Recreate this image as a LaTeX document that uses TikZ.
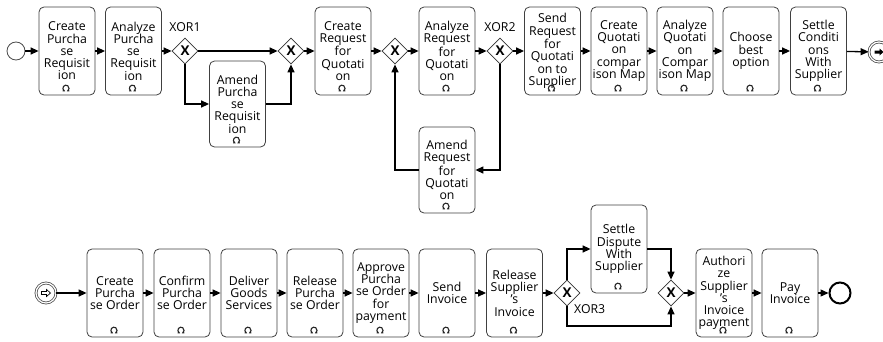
\documentclass[tikz,border=0pt]{standalone}
\usepackage{fontspec}
\setmainfont{Open Sans}
\usetikzlibrary{shapes.geometric,arrows.meta,calc}
\tikzset{
  task/.style={draw=black!75, line width=0.8pt, rounded corners=5pt, minimum width=56pt,
    minimum height=88pt, inner sep=0.5pt, align=center, fill=white,
    font=\fontsize{12.3}{12.3}\selectfont},
  gw/.style={diamond, draw=black!80, line width=0.8pt, minimum width=26pt, minimum height=26pt,
    inner sep=0pt, fill=white, font=\bfseries\fontsize{13.5}{13.5}\selectfont},
  gwlabel/.style={font=\fontsize{12.3}{12.3}\selectfont, inner sep=0pt},
  flow/.style={line width=1.3pt, -{Triangle[length=8pt,width=7pt]}},
  evstart/.style={circle, draw=black!70, line width=0.8pt, minimum size=18pt, inner sep=0pt, fill=white},
  evend/.style={circle, draw=black, line width=2pt, minimum size=21pt, inner sep=0pt, fill=white},
  evlink/.style={circle, draw=black!70, line width=0.8pt, minimum size=20pt, inner sep=0pt, fill=white,
    double=white, double distance=1.2pt},
  loopmk/.style={line width=1.1pt, black!85}
}
\newcommand\loopmark[1]{\draw[loopmk] ($(#1.south)+(-4.4,4.6)$) -- ++(1.6,0) arc[start angle=235,end angle=-55,radius=3.1] -- ++(1.6,0);}
\begin{document}
\begin{tikzpicture}[x=1pt,y=1pt]
\useasboundingbox (0,0) rectangle (883,341);
\clip (0,0) rectangle (883,341);
% ---------- top row ----------
\node[evstart] (start) at (16,290) {};
\node[task] (t1) at (67,290) {Create\\Purcha\\se\\Requisit\\ion};
\node[task] (t2) at (133.5,290) {Analyze\\Purcha\\se\\Requisit\\ion};
\node[gw] (x1) at (185,290) {X};
\node[gwlabel] (lx1) at (185,314) {XOR1};
\node[task, minimum height=86pt] (apr) at (237.5,237) {Amend\\Purcha\\se\\Requisit\\ion};
\node[gw] (m1) at (291,290) {X};
\node[task] (t3) at (343,290) {Create\\Request\\for\\Quotati\\on};
\node[gw] (m2) at (395,290) {X};
\node[task] (t4) at (447,290) {Analyze\\Request\\for\\Quotati\\on};
\node[gw] (x2) at (500,290) {X};
\node[gwlabel] (lx2) at (500,314) {XOR2};
\node[task, minimum height=86pt] (arfq) at (447,171) {Amend\\Request\\for\\Quotati\\on};
\node[task] (t5) at (552.5,290) {Send\\Request\\for\\Quotati\\on to\\Supplier};
\node[task] (t6) at (619,290) {Create\\Quotati\\on\\compar\\ison Map};
\node[task] (t7) at (685,290) {Analyze\\Quotati\\on\\Compar\\ison Map};
\node[task] (t8) at (751,290) {Choose\\best\\option};
\node[task] (t9) at (818.5,290) {Settle\\Conditi\\ons\\With\\Supplier};
\node[evlink] (lka) at (879,289) {};
\fill ($(lka)+(-4.5,-1.5)$) -- ++(5,0) -- ++(0,-2) -- ++(4,3.5) -- ++(-4,3.5) -- ++(0,-2) -- ++(-5,0) -- cycle;
\foreach \n in {t1,t2,apr,t3,t4,arfq,t5,t6,t7,t8,t9} {\loopmark{\n}}
\draw[flow] (start) -- (t1);
\draw[flow] (t1) -- (t2);
\draw[flow] (t2) -- (x1);
\draw[flow] (x1) -- (m1);
\draw[flow] (x1.south) |- (apr.west);
\draw[flow] (apr.east) -| (m1.south);
\draw[flow] (m1) -- (t3);
\draw[flow] (t3) -- (m2);
\draw[flow] (m2) -- (t4);
\draw[flow] (t4) -- (x2);
\draw[flow] (x2) -- (t5);
\draw[flow] (x2.south) |- (arfq.east);
\draw[flow] (arfq.west) -| (m2.south);
\draw[flow] (t5) -- (t6);
\draw[flow] (t6) -- (t7);
\draw[flow] (t7) -- (t8);
\draw[flow] (t8) -- (t9);
\draw[flow] (t9) -- (lka);
% ---------- bottom row ----------
\node[evlink] (lkb) at (46,48) {};
\draw[line width=0.7pt] ($(lkb)+(-4.5,-1.5)$) -- ++(5,0) -- ++(0,-2) -- ++(4,3.5) -- ++(-4,3.5) -- ++(0,-2) -- ++(-5,0) -- cycle;
\node[task] (b1) at (115,48) {Create\\Purcha\\se Order};
\node[task] (b2) at (182,48) {Confirm\\Purcha\\se Order};
\node[task] (b3) at (249,48) {Deliver\\Goods\\Services};
\node[task] (b4) at (315,48) {Release\\Purcha\\se Order};
\node[task] (b5) at (381,48) {Approve\\Purcha\\se Order\\for\\payment};
\node[task] (b6) at (447,48) {Send\\Invoice};
\node[task] (b7) at (514.5,48) {Release\\Supplier\\'s\\Invoice};
\node[gw] (x3) at (567,48) {X};
\node[gwlabel, anchor=west] (lx3) at (574,32) {XOR3};
\node[task] (sd) at (619,92) {Settle\\Dispute\\With\\Supplier};
\node[gw] (m3) at (671,48) {X};
\node[task] (b8) at (724,48) {Authori\\ze\\Supplier\\'s\\Invoice\\payment};
\node[task] (b9) at (790,48) {Pay\\Invoice};
\node[evend] (end) at (840,48) {};
\coordinate (low) at (620,15);
\foreach \n in {b1,b2,b3,b4,b5,b6,b7,sd,b8,b9} {\loopmark{\n}}
\draw[flow] (lkb) -- (b1);
\draw[flow] (b1) -- (b2);
\draw[flow] (b2) -- (b3);
\draw[flow] (b3) -- (b4);
\draw[flow] (b4) -- (b5);
\draw[flow] (b5) -- (b6);
\draw[flow] (b6) -- (b7);
\draw[flow] (b7) -- (x3);
\draw[flow] (x3.north) |- (sd.west);
\draw[flow] (sd.east) -| (m3.north);
\draw[flow] (x3.south) |- (low) -| (m3.south);
\draw[flow] (m3) -- (b8);
\draw[flow] (b8) -- (b9);
\draw[flow] (b9) -- (end);
\end{tikzpicture}
\end{document}
